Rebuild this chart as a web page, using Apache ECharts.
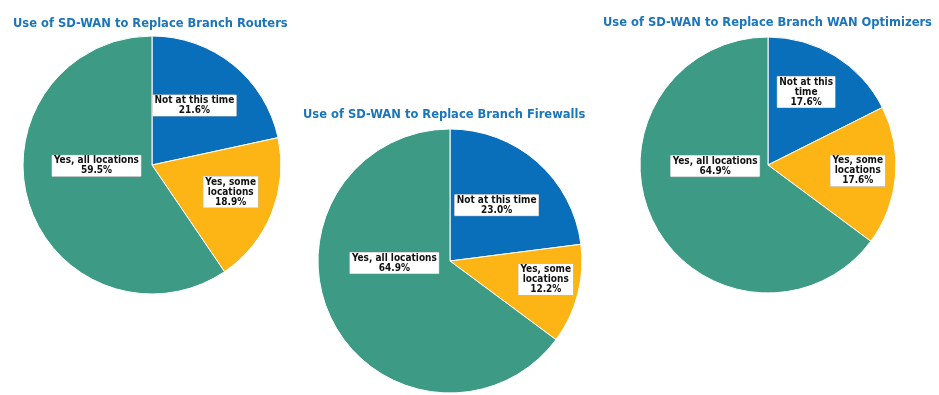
<!DOCTYPE html>
<html><head><meta charset="utf-8">
<script src="https://cdn.jsdelivr.net/npm/echarts@6/dist/echarts.min.js"></script>
<style>html,body{margin:0;padding:0;background:#fff}#c{width:939px;height:395px}</style>
</head><body><div id="c"></div>
<script>
const categories = ['Not at this time', 'Yes, some locations', 'Yes, all locations'];
const labelNames = ['Not at this time', 'Yes, some\nlocations', 'Yes, all locations'];
const labelNames3 = ['Not at this\ntime', 'Yes, some\nlocations', 'Yes, all locations'];
const routers = [21.6, 18.9, 59.5];
const firewalls = [23.0, 12.2, 64.9];
const optimizers = [17.6, 17.6, 64.9];
const titles = ['Use of SD-WAN to Replace Branch Routers', 'Use of SD-WAN to Replace Branch Firewalls', 'Use of SD-WAN to Replace Branch WAN Optimizers'];

const colors = ['#0a6fba', '#fdb515', '#3d9a84'];
const layout = [
  {center: [152, 165], r: 129, title: [13, 18], names: labelNames, offs: [[0, -7], [16, 2], [9, -19]]},
  {center: [450, 261], r: 132, title: [303, 109], names: labelNames, offs: [[1, -4], [29, 1], [6, -29]]},
  {center: [768, 165], r: 128, title: [603, 17], names: labelNames3, offs: [[3, -16], [23, 0], [7, -29]]}
];
const seriesValues = [routers, firewalls, optimizers];

const chart = echarts.init(document.getElementById('c'));
chart.setOption({
  animation: false,
  title: layout.map((l, i) => ({
    text: titles[i], left: l.title[0], top: l.title[1], padding: 0,
    textStyle: {fontFamily: 'DejaVu Sans', fontWeight: 'bold', fontSize: 11.5, color: '#1a75bb'}
  })),
  series: layout.map((l, i) => ({
    type: 'pie', center: l.center, radius: l.r, startAngle: 90, clockwise: true,
    silent: true,
    itemStyle: {borderColor: '#fff', borderWidth: 1},
    label: {
      position: 'inside', color: '#111', fontFamily: 'DejaVu Sans Condensed', fontWeight: 'bold',
      fontSize: 10, lineHeight: 10, backgroundColor: '#fff', borderColor: '#bbb', borderWidth: 0.5,
      padding: [1, 2, 0, 2], align: 'center',
      formatter: p => l.names[p.dataIndex] + '\n' + p.value.toFixed(1) + '%'
    },
    labelLine: {show: false},
    data: seriesValues[i].map((v, j) => ({
      name: categories[j], value: v, itemStyle: {color: colors[j]},
      label: {offset: l.offs[j]}
    }))
  }))
});
</script></body></html>
